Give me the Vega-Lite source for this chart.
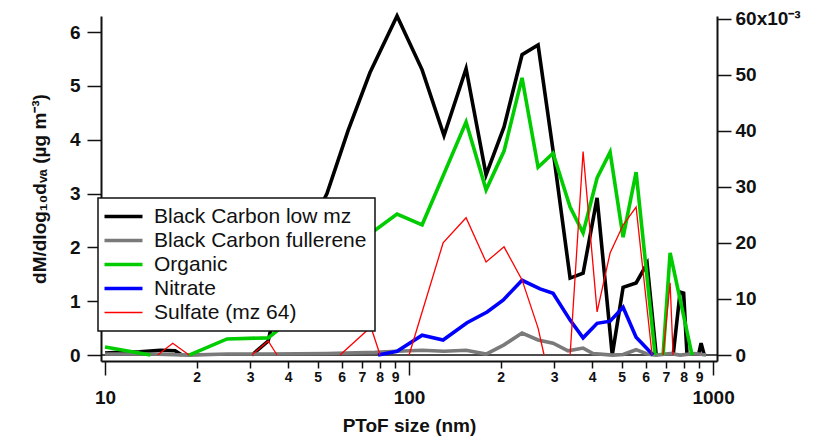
{
  "$schema": "https://vega.github.io/schema/vega-lite/v6.json",
  "autosize": {"type": "pad"},
  "padding": {"left": 30, "top": 8, "right": 10, "bottom": 5},
  "spacing": 0,
  "bounds": "flush",
  "data": {
    "values": [
      {"series": "Black Carbon low mz", "seg": 1, "size": 10, "value": 0.04},
      {"series": "Black Carbon low mz", "seg": 1, "size": 11.2, "value": 0.05},
      {"series": "Black Carbon low mz", "seg": 1, "size": 13, "value": 0.06},
      {"series": "Black Carbon low mz", "seg": 1, "size": 15.2, "value": 0.09},
      {"series": "Black Carbon low mz", "seg": 1, "size": 17, "value": 0.08},
      {"series": "Black Carbon low mz", "seg": 1, "size": 17.9, "value": 0},
      {"series": "Black Carbon low mz", "seg": 2, "size": 30.4, "value": 0},
      {"series": "Black Carbon low mz", "seg": 2, "size": 34.4, "value": 0.26},
      {"series": "Black Carbon low mz", "seg": 2, "size": 36.8, "value": 1.0},
      {"series": "Black Carbon low mz", "seg": 2, "size": 43.8, "value": 2.0},
      {"series": "Black Carbon low mz", "seg": 2, "size": 53.7, "value": 3.0},
      {"series": "Black Carbon low mz", "seg": 2, "size": 63, "value": 4.17},
      {"series": "Black Carbon low mz", "seg": 2, "size": 74.4, "value": 5.25},
      {"series": "Black Carbon low mz", "seg": 2, "size": 91.3, "value": 6.3},
      {"series": "Black Carbon low mz", "seg": 2, "size": 110.4, "value": 5.3},
      {"series": "Black Carbon low mz", "seg": 2, "size": 130.3, "value": 4.08},
      {"series": "Black Carbon low mz", "seg": 2, "size": 154, "value": 5.32},
      {"series": "Black Carbon low mz", "seg": 2, "size": 179.2, "value": 3.35},
      {"series": "Black Carbon low mz", "seg": 2, "size": 205.3, "value": 4.24},
      {"series": "Black Carbon low mz", "seg": 2, "size": 235.3, "value": 5.58},
      {"series": "Black Carbon low mz", "seg": 2, "size": 265.7, "value": 5.76},
      {"series": "Black Carbon low mz", "seg": 2, "size": 297.6, "value": 3.8},
      {"series": "Black Carbon low mz", "seg": 2, "size": 338.6, "value": 1.43},
      {"series": "Black Carbon low mz", "seg": 2, "size": 373.6, "value": 1.52},
      {"series": "Black Carbon low mz", "seg": 2, "size": 415.4, "value": 2.92},
      {"series": "Black Carbon low mz", "seg": 2, "size": 466, "value": 0},
      {"series": "Black Carbon low mz", "seg": 2, "size": 505.8, "value": 1.26},
      {"series": "Black Carbon low mz", "seg": 2, "size": 558.2, "value": 1.34},
      {"series": "Black Carbon low mz", "seg": 2, "size": 606.7, "value": 1.7},
      {"series": "Black Carbon low mz", "seg": 2, "size": 650, "value": 0},
      {"series": "Black Carbon low mz", "seg": 3, "size": 739, "value": 0},
      {"series": "Black Carbon low mz", "seg": 3, "size": 779, "value": 1.17},
      {"series": "Black Carbon low mz", "seg": 3, "size": 800, "value": 1.15},
      {"series": "Black Carbon low mz", "seg": 3, "size": 821, "value": 0},
      {"series": "Black Carbon low mz", "seg": 4, "size": 895, "value": 0},
      {"series": "Black Carbon low mz", "seg": 4, "size": 913, "value": 0.22},
      {"series": "Black Carbon low mz", "seg": 4, "size": 935, "value": 0},

      {"series": "Black Carbon fullerene", "seg": 1, "size": 10, "value": 0.02},
      {"series": "Black Carbon fullerene", "seg": 1, "size": 14.1, "value": 0.02},
      {"series": "Black Carbon fullerene", "seg": 1, "size": 18.9, "value": 0},
      {"series": "Black Carbon fullerene", "seg": 1, "size": 25.2, "value": 0.02},
      {"series": "Black Carbon fullerene", "seg": 1, "size": 34.4, "value": 0.02},
      {"series": "Black Carbon fullerene", "seg": 1, "size": 53.7, "value": 0.03},
      {"series": "Black Carbon fullerene", "seg": 1, "size": 77.3, "value": 0.05},
      {"series": "Black Carbon fullerene", "seg": 1, "size": 91.3, "value": 0.07},
      {"series": "Black Carbon fullerene", "seg": 1, "size": 110.4, "value": 0.09},
      {"series": "Black Carbon fullerene", "seg": 1, "size": 130.3, "value": 0.07},
      {"series": "Black Carbon fullerene", "seg": 1, "size": 154, "value": 0.09},
      {"series": "Black Carbon fullerene", "seg": 1, "size": 179.2, "value": 0.02},
      {"series": "Black Carbon fullerene", "seg": 1, "size": 205.3, "value": 0.19},
      {"series": "Black Carbon fullerene", "seg": 1, "size": 235.3, "value": 0.41},
      {"series": "Black Carbon fullerene", "seg": 1, "size": 265.7, "value": 0.28},
      {"series": "Black Carbon fullerene", "seg": 1, "size": 297.6, "value": 0.22},
      {"series": "Black Carbon fullerene", "seg": 1, "size": 333.4, "value": 0.08},
      {"series": "Black Carbon fullerene", "seg": 1, "size": 373.6, "value": 0.13},
      {"series": "Black Carbon fullerene", "seg": 1, "size": 402.8, "value": 0.03},
      {"series": "Black Carbon fullerene", "seg": 1, "size": 466, "value": 0},
      {"series": "Black Carbon fullerene", "seg": 1, "size": 505.8, "value": 0.01},
      {"series": "Black Carbon fullerene", "seg": 1, "size": 558.2, "value": 0.1},
      {"series": "Black Carbon fullerene", "seg": 1, "size": 606.7, "value": 0.02},
      {"series": "Black Carbon fullerene", "seg": 1, "size": 650, "value": 0},
      {"series": "Black Carbon fullerene", "seg": 1, "size": 722, "value": 0.03},
      {"series": "Black Carbon fullerene", "seg": 1, "size": 779, "value": 0},
      {"series": "Black Carbon fullerene", "seg": 1, "size": 870, "value": 0.03},
      {"series": "Black Carbon fullerene", "seg": 1, "size": 948, "value": 0},

      {"series": "Organic", "seg": 1, "size": 10, "value": 0.15},
      {"series": "Organic", "seg": 1, "size": 14.1, "value": 0},
      {"series": "Organic", "seg": 2, "size": 18.9, "value": 0},
      {"series": "Organic", "seg": 2, "size": 25.2, "value": 0.3},
      {"series": "Organic", "seg": 2, "size": 34.4, "value": 0.32},
      {"series": "Organic", "seg": 2, "size": 36.8, "value": 0.45},
      {"series": "Organic", "seg": 2, "size": 43.8, "value": 1.1},
      {"series": "Organic", "seg": 2, "size": 53.7, "value": 1.7},
      {"series": "Organic", "seg": 2, "size": 63, "value": 2.05},
      {"series": "Organic", "seg": 2, "size": 77.3, "value": 2.32},
      {"series": "Organic", "seg": 2, "size": 91.3, "value": 2.62},
      {"series": "Organic", "seg": 2, "size": 110.4, "value": 2.42},
      {"series": "Organic", "seg": 2, "size": 130.3, "value": 3.37},
      {"series": "Organic", "seg": 2, "size": 154, "value": 4.33},
      {"series": "Organic", "seg": 2, "size": 179.2, "value": 3.07},
      {"series": "Organic", "seg": 2, "size": 205.3, "value": 3.79},
      {"series": "Organic", "seg": 2, "size": 235.3, "value": 5.15},
      {"series": "Organic", "seg": 2, "size": 265.7, "value": 3.49},
      {"series": "Organic", "seg": 2, "size": 297.6, "value": 3.75},
      {"series": "Organic", "seg": 2, "size": 338.6, "value": 2.75},
      {"series": "Organic", "seg": 2, "size": 373.6, "value": 2.27},
      {"series": "Organic", "seg": 2, "size": 415.4, "value": 3.29},
      {"series": "Organic", "seg": 2, "size": 458.4, "value": 3.77},
      {"series": "Organic", "seg": 2, "size": 505.8, "value": 2.19},
      {"series": "Organic", "seg": 2, "size": 558.2, "value": 3.4},
      {"series": "Organic", "seg": 2, "size": 644.5, "value": 0},
      {"series": "Organic", "seg": 3, "size": 684.7, "value": 0},
      {"series": "Organic", "seg": 3, "size": 722.1, "value": 1.9},
      {"series": "Organic", "seg": 3, "size": 852.8, "value": 0},

      {"series": "Nitrate", "seg": 1, "size": 79.1, "value": 0},
      {"series": "Nitrate", "seg": 1, "size": 91.3, "value": 0.07},
      {"series": "Nitrate", "seg": 1, "size": 110.4, "value": 0.37},
      {"series": "Nitrate", "seg": 1, "size": 129.4, "value": 0.28},
      {"series": "Nitrate", "seg": 1, "size": 155.1, "value": 0.6},
      {"series": "Nitrate", "seg": 1, "size": 180.6, "value": 0.8},
      {"series": "Nitrate", "seg": 1, "size": 203.8, "value": 1.02},
      {"series": "Nitrate", "seg": 1, "size": 235.3, "value": 1.39},
      {"series": "Nitrate", "seg": 1, "size": 269.7, "value": 1.23},
      {"series": "Nitrate", "seg": 1, "size": 297.6, "value": 1.15},
      {"series": "Nitrate", "seg": 1, "size": 338.6, "value": 0.65},
      {"series": "Nitrate", "seg": 1, "size": 373.6, "value": 0.32},
      {"series": "Nitrate", "seg": 1, "size": 415.4, "value": 0.59},
      {"series": "Nitrate", "seg": 1, "size": 458.4, "value": 0.63},
      {"series": "Nitrate", "seg": 1, "size": 505.8, "value": 0.89},
      {"series": "Nitrate", "seg": 1, "size": 558.2, "value": 0.33},
      {"series": "Nitrate", "seg": 1, "size": 634.8, "value": 0},

      {"series": "Sulfate (mz 64)", "seg": 1, "size": 14.9, "value": 0},
      {"series": "Sulfate (mz 64)", "seg": 1, "size": 16.7, "value": 2.1},
      {"series": "Sulfate (mz 64)", "seg": 1, "size": 18.9, "value": 0},
      {"series": "Sulfate (mz 64)", "seg": 2, "size": 30.4, "value": 0},
      {"series": "Sulfate (mz 64)", "seg": 2, "size": 34.4, "value": 2.5},
      {"series": "Sulfate (mz 64)", "seg": 2, "size": 36.8, "value": 0},
      {"series": "Sulfate (mz 64)", "seg": 3, "size": 59.3, "value": 0},
      {"series": "Sulfate (mz 64)", "seg": 3, "size": 74.9, "value": 5.0},
      {"series": "Sulfate (mz 64)", "seg": 3, "size": 80.3, "value": 0},
      {"series": "Sulfate (mz 64)", "seg": 4, "size": 100, "value": 0},
      {"series": "Sulfate (mz 64)", "seg": 4, "size": 129.4, "value": 20.0},
      {"series": "Sulfate (mz 64)", "seg": 4, "size": 154, "value": 24.5},
      {"series": "Sulfate (mz 64)", "seg": 4, "size": 179.2, "value": 16.6},
      {"series": "Sulfate (mz 64)", "seg": 4, "size": 205.3, "value": 19.3},
      {"series": "Sulfate (mz 64)", "seg": 4, "size": 235.3, "value": 13.4},
      {"series": "Sulfate (mz 64)", "seg": 4, "size": 265.7, "value": 4.8},
      {"series": "Sulfate (mz 64)", "seg": 4, "size": 278, "value": 0},
      {"series": "Sulfate (mz 64)", "seg": 5, "size": 338.6, "value": 0},
      {"series": "Sulfate (mz 64)", "seg": 5, "size": 373.6, "value": 36.3},
      {"series": "Sulfate (mz 64)", "seg": 5, "size": 415.4, "value": 7.7},
      {"series": "Sulfate (mz 64)", "seg": 5, "size": 458.4, "value": 18.2},
      {"series": "Sulfate (mz 64)", "seg": 5, "size": 505.8, "value": 23.2},
      {"series": "Sulfate (mz 64)", "seg": 5, "size": 558.2, "value": 26.4},
      {"series": "Sulfate (mz 64)", "seg": 5, "size": 630, "value": 0},
      {"series": "Sulfate (mz 64)", "seg": 6, "size": 684.7, "value": 0},
      {"series": "Sulfate (mz 64)", "seg": 6, "size": 722.1, "value": 12.9},
      {"series": "Sulfate (mz 64)", "seg": 6, "size": 738.6, "value": 0}
    ]
  },
  "vconcat": [
    {
      "width": 616,
      "height": 345,
      "layer": [
        {
          "layer": [
            {
              "data": {"values": [{}]},
              "mark": {"type": "rule", "color": "#111111", "strokeWidth": 1.5},
              "encoding": {
                "y": {"datum": 0, "type": "quantitative", "scale": {"domain": [-0.11, 6.3], "nice": false, "zero": false}}
              }
            },
            {
              "transform": [{"filter": "datum.series !== 'Sulfate (mz 64)'"}],
              "mark": {"type": "line", "strokeWidth": 3.6, "strokeJoin": "miter"},
              "encoding": {
                "x": {
                  "field": "size", "type": "quantitative",
                  "scale": {"type": "log", "domain": [9.7, 1030], "nice": false},
                  "axis": {
                    "orient": "bottom", "title": null,
                    "values": [20, 30, 40, 50, 60, 70, 80, 90, 200, 300, 400, 500, 600, 700, 800, 900],
                    "labelExpr": "datum.value < 100 ? datum.value / 10 : datum.value / 100",
                    "tickSize": 7, "labelFontSize": 14, "labelPadding": 2,
                    "labelOverlap": false, "labelFlush": false, "labelBound": false
                  }
                },
                "y": {
                  "field": "value", "type": "quantitative",
                  "scale": {"domain": [-0.11, 6.3], "nice": false, "zero": false},
                  "axis": {
                    "orient": "left", "values": [0, 1, 2, 3, 4, 5, 6],
                    "tickSize": 14, "labelFontSize": 19, "labelPadding": 7, "labelFlush": false,
                    "title": "dM/dlog₁₀dᵥₐ (µg m⁻³)", "titleFontSize": 19, "titlePadding": 20
                  }
                },
                "color": {
                  "field": "series", "type": "nominal",
                  "scale": {
                    "domain": ["Black Carbon low mz", "Black Carbon fullerene", "Organic", "Nitrate", "Sulfate (mz 64)"],
                    "range": ["#000000", "#7a7a7a", "#00cc00", "#0000ff", "#ff0000"]
                  },
                  "legend": null
                },
                "detail": {"field": "seg", "type": "nominal"}
              }
            }
          ]
        },
        {
          "transform": [{"filter": "datum.series === 'Sulfate (mz 64)'"}],
          "mark": {"type": "line", "strokeWidth": 1.3},
          "encoding": {
            "x": {
              "field": "size", "type": "quantitative",
              "scale": {"type": "log", "domain": [9.7, 1030], "nice": false},
              "axis": {
                "orient": "bottom", "values": [10, 100, 1000], "format": "d",
                "tickSize": 14, "labelFontSize": 19, "labelPadding": 13,
                "labelFlush": false, "labelOverlap": false, "domain": false,
                "title": "PToF size (nm)", "titleFontSize": 19, "titlePadding": 9
              }
            },
            "y": {
              "field": "value", "type": "quantitative",
              "scale": {"domain": [-1.07, 60.5], "nice": false, "zero": false},
              "axis": {
                "orient": "right", "values": [0, 10, 20, 30, 40, 50, 60],
                "labelExpr": "datum.value === 60 ? '60x10⁻³' : datum.label",
                "tickSize": 14, "labelFontSize": 19, "labelPadding": 4, "labelFlush": false,
                "title": null
              }
            },
            "color": {
              "field": "series", "type": "nominal",
              "scale": {
                "domain": ["Black Carbon low mz", "Black Carbon fullerene", "Organic", "Nitrate", "Sulfate (mz 64)"],
                "range": ["#000000", "#7a7a7a", "#00cc00", "#0000ff", "#ff0000"]
              },
              "legend": null
            },
            "detail": {"field": "seg", "type": "nominal"}
          }
        }
      ],
      "resolve": {"scale": {"y": "independent"}, "axis": {"x": "independent", "y": "independent"}}
    },
    {
      "width": 616,
      "height": 1,
      "mark": {"type": "line", "opacity": 0},
      "encoding": {
        "x": {"field": "size", "type": "quantitative", "scale": {"type": "log"}, "axis": null},
        "y": {"field": "value", "type": "quantitative", "axis": null},
        "color": {
          "field": "series", "type": "nominal",
          "scale": {
            "domain": ["Black Carbon low mz", "Black Carbon fullerene", "Organic", "Nitrate", "Sulfate (mz 64)"],
            "range": ["#000000", "#7a7a7a", "#00cc00", "#0000ff", "#ff0000"]
          },
          "legend": {
            "orient": "none", "legendX": -3, "legendY": -163, "title": null,
            "symbolType": "stroke", "symbolSize": 1444, "symbolStrokeWidth": 3.6, "symbolOffset": 7,
            "labelFontSize": 21, "labelFont": "Liberation Sans", "labelColor": "#111111",
            "labelLimit": 400, "labelOffset": 20, "rowPadding": 2, "padding": 8,
            "strokeColor": "#111111", "fillColor": "#ffffff",
            "encode": {
              "symbols": {"update": {
                "strokeWidth": {"signal": "datum.value === 'Sulfate (mz 64)' ? 1.3 : 3.6"},
                "opacity": {"value": 1},
                "strokeOpacity": {"value": 1}
              }}
            }
          }
        },
        "detail": {"field": "seg", "type": "nominal"}
      }
    }
  ],
  "resolve": {"scale": {"x": "independent", "y": "independent", "color": "independent"}},
  "config": {
    "font": "Liberation Sans",
    "view": {"stroke": null},
    "legend": {"strokeWidth": 1.5},
    "axis": {
      "grid": false, "domainColor": "#111111", "domainWidth": 2,
      "tickColor": "#111111", "tickWidth": 1.5,
      "labelFont": "Liberation Sans", "labelFontWeight": "bold", "labelColor": "#111111",
      "titleFont": "Liberation Sans", "titleFontWeight": "bold", "titleColor": "#111111"
    }
  }
}
